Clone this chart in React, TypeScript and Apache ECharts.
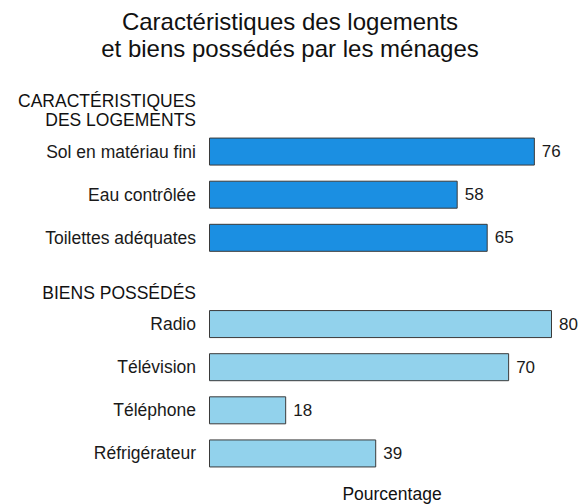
import React, { useEffect, useRef } from "react";
import * as echarts from "echarts";

const titleLines = ["Caractéristiques des logements", "et biens possédés par les ménages"];
const header1Lines = ["CARACTÉRISTIQUES", "DES LOGEMENTS"];
const header2 = "BIENS POSSÉDÉS";
const logementsLabels = ["Sol en matériau fini", "Eau contrôlée", "Toilettes adéquates"];
const logementsValues = [76, 58, 65];
const biensLabels = ["Radio", "Télévision", "Téléphone", "Réfrigérateur"];
const biensValues = [80, 70, 18, 39];
const axisName = "Pourcentage";

const darkBlue = "#1B8FE2";
const lightBlue = "#92D2EC";
const FONT = "Liberation Sans, Arial, Helvetica, sans-serif";

export default function App() {
  const ref = useRef<HTMLDivElement>(null);
  useEffect(() => {
    if (!ref.current) return;
    const chart = echarts.init(ref.current, null, { renderer: "svg" });
    const categories = [...logementsLabels, " ", ...biensLabels];
    const data: any[] = [
      ...logementsValues.map((v) => ({ value: v, itemStyle: { color: darkBlue } })),
      { value: null },
      ...biensValues.map((v) => ({ value: v, itemStyle: { color: lightBlue } })),
    ];
    chart.setOption({
      animation: false,
      backgroundColor: "#ffffff",
      textStyle: { fontFamily: FONT },
      grid: { left: 209, right: 32, top: 130, bottom: 29 },
      xAxis: {
        type: "value",
        min: 0,
        max: 80,
        show: false,
      },
      yAxis: {
        type: "category",
        inverse: true,
        data: categories,
        axisLine: { show: false },
        axisTick: { show: false },
        splitLine: { show: false },
        axisLabel: { color: "#1a1a1a", fontSize: 17.5, margin: 13, fontFamily: FONT },
      },
      series: [
        {
          type: "bar",
          data,
          barWidth: 28,
          itemStyle: { borderColor: "#3a3a3a", borderWidth: 1 },
          label: {
            show: true,
            position: "right",
            distance: 7,
            color: "#1a1a1a",
            fontSize: 17,
            fontFamily: FONT,
          },
        },
      ],
      graphic: [
        {
          type: "text",
          x: 290,
          y: 8,
          style: {
            text: titleLines.join("\n"),
            fontSize: 24,
            lineHeight: 27,
            fill: "#111",
            align: "center",
            fontFamily: FONT,
          },
        },
        {
          type: "text",
          x: 196,
          y: 91,
          style: {
            text: header1Lines.join("\n"),
            fontSize: 17.5,
            lineHeight: 19,
            fill: "#111",
            align: "right",
            fontFamily: FONT,
          },
        },
        {
          type: "text",
          x: 196,
          y: 284,
          style: {
            text: header2,
            fontSize: 17.5,
            fill: "#111",
            align: "right",
            fontFamily: FONT,
          },
        },
        {
          type: "text",
          x: 392,
          y: 485,
          style: {
            text: axisName,
            fontSize: 17.5,
            fill: "#111",
            align: "center",
            fontFamily: FONT,
          },
        },
      ],
    });
    return () => chart.dispose();
  }, []);
  return (
    <div
      ref={ref}
      style={{ position: "fixed", left: 0, top: 0, width: 584, height: 504 }}
    />
  );
}
